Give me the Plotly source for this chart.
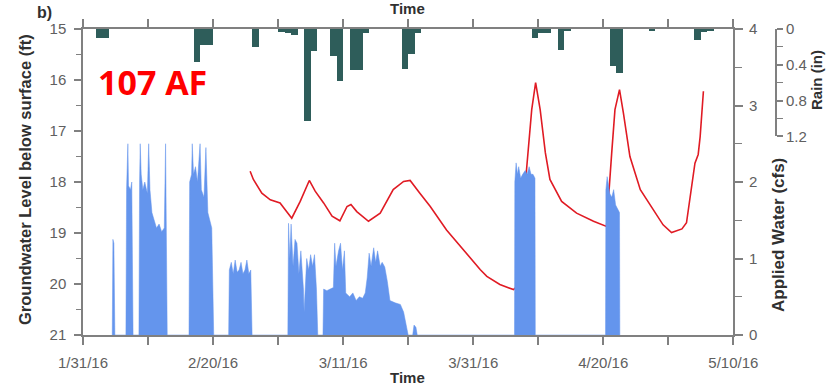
import pandas as pd
import plotly.graph_objects as go

BASE = pd.Timestamp("2016-01-31")

# ---- Rain (in), daily bars; day offset from 1/31/16 ----
rain_day = [2, 3, 17, 18, 19, 26, 30, 31, 32, 34, 35, 38, 39, 41, 42, 43,
            49, 50, 51, 69, 70, 71, 73, 74, 81, 82, 87, 94, 95, 96]
rain_in = [0.10, 0.10, 0.37, 0.18, 0.18, 0.20, 0.03, 0.05, 0.07, 1.03, 0.25, 0.30, 0.58, 0.46, 0.46, 0.04,
           0.45, 0.28, 0.05, 0.10, 0.04, 0.04, 0.24, 0.02, 0.41, 0.49, 0.02, 0.12, 0.03, 0.02]

# ---- Groundwater level below surface (ft) ----
gw_day = [25.7, 26.2, 27.5, 28.8, 30.3, 32.1, 33.4, 34.8, 35.7, 37.0, 38.3, 39.5, 40.6, 41.2,
          42.1, 43.9, 45.7, 47.7, 49.3, 50.3, 51.8, 53.4, 55.9, 58.5, 59.5, 61.1, 62.1, 64.1,
          66.2, 66.7, 67.5, 68.2, 69.0, 69.6, 70.3, 71.1, 71.8, 73.6, 75.9, 78.5, 80.5, 80.6,
          81.3, 81.8, 82.5, 83.1, 84.1, 85.7, 87.5, 89.2, 90.5, 92.1, 92.8, 93.6, 94.1, 94.6,
          94.9, 95.4]
gw_ft = [17.79, 17.95, 18.22, 18.35, 18.41, 18.71, 18.38, 17.97, 18.18, 18.41, 18.67, 18.76, 18.48, 18.44,
         18.58, 18.77, 18.61, 18.15, 17.99, 17.97, 18.22, 18.48, 18.94, 19.33, 19.49, 19.72, 19.85, 20.01,
         20.11, 20.05, 19.07, 17.76, 16.58, 16.05, 16.58, 17.43, 17.95, 18.38, 18.61, 18.77, 18.87, 18.67,
         17.43, 16.58, 16.19, 16.65, 17.50, 18.15, 18.51, 18.84, 18.99, 18.92, 18.80, 18.09, 17.63, 17.46,
         17.11, 16.22]

# ---- Applied water (cfs) ----
aw_day = [4.5, 4.6, 4.75, 4.9,
          6.6, 6.7, 6.9, 7.0, 7.3, 7.5, 7.7,
          8.6, 8.7, 8.8, 8.95, 9.2, 9.5, 9.9, 10.1, 10.3, 10.6, 10.9, 11.3, 11.7, 12.1, 12.5, 12.7, 12.8, 12.95,
          16.3, 16.4, 16.7, 16.8, 17.0, 17.3, 17.6, 18.0, 18.2, 18.6, 18.9, 19.2, 19.5, 19.8, 20.1,
          22.4, 22.5, 22.8, 23.1, 23.4, 23.7, 24.0, 24.3, 24.6, 24.9, 25.2, 25.5, 25.8, 26.0,
          31.5, 31.6, 31.8, 32.0, 32.3, 32.6, 32.9, 33.2, 33.5, 33.9, 34.0, 34.4, 34.7, 35.0, 35.3, 35.6, 35.9, 36.1,
          36.9, 37.0, 37.5, 38.0, 38.5, 38.7, 38.9, 39.3, 39.6, 39.9, 40.2, 40.4, 41.0, 41.5, 42.0, 42.5, 43.0,
          43.4, 43.7, 44.0, 44.3, 44.7, 45.0, 45.3, 45.7, 46.0, 46.4, 46.8, 47.2, 48.0, 48.8, 49.3, 49.7, 50.0,
          50.7, 50.9, 51.2, 51.4,
          66.35, 66.4, 66.6, 66.8, 67.0, 67.3, 67.6, 68.0, 68.3, 68.6, 68.9, 69.2, 69.5, 69.55,
          80.35, 80.4, 80.6, 80.8, 81.0, 81.3, 81.6, 81.9, 82.2, 82.5, 82.55]
aw_cfs = [0, 1.25, 1.2, 0,
          0, 1.9, 2.5, 1.95, 1.9, 2.0, 0,
          0, 2.0, 2.5, 2.1, 1.9, 2.0, 1.85, 2.5, 1.9, 1.6, 1.5, 1.4, 1.45, 1.35, 1.4, 2.5, 1.5, 0,
          0, 2.0, 2.1, 2.5, 2.1, 2.2, 2.0, 2.5, 1.9, 1.8, 2.45, 1.6, 1.5, 1.4, 0,
          0, 0.85, 0.95, 0.8, 0.98, 0.82, 0.85, 0.95, 0.8, 0.85, 0.98, 0.8, 0.85, 0,
          0, 1.46, 1.0, 1.45, 0.9, 1.25, 1.2, 0.8, 1.1, 0.6, 0.3, 1.0, 0.85, 1.05, 0.9, 1.05, 0.6, 0,
          0, 0.6, 0.58, 0.6, 0.62, 1.2, 0.9, 1.1, 1.2, 0.85, 1.1, 0.55, 0.5, 0.55, 0.45, 0.5, 0.48,
          0.55, 0.75, 1.07, 0.9, 1.14, 0.95, 1.1, 0.9, 0.95, 0.89, 0.7, 0.45, 0.42, 0.4, 0.3, 0.1, 0,
          0, 0.13, 0.1, 0,
          0, 2.0, 2.25, 2.1, 2.2, 2.05, 2.1, 2.15, 2.1, 2.2, 2.1, 2.1, 2.05, 0,
          0, 1.9, 2.07, 1.95, 1.85, 1.8, 1.9, 1.7, 1.65, 1.6, 0]

# ---- Tick labels ----
x_tick_days = [0, 10, 20, 30, 40, 50, 60, 70, 80, 90, 100]
x_tick_text = ["1/31/16", "", "2/20/16", "", "3/11/16", "", "3/31/16", "", "4/20/16", "", "5/10/16"]
gw_ticks = [15, 16, 17, 18, 19, 20, 21]
cfs_ticks = [0, 1, 2, 3, 4]
rain_ticks = [0, 0.4, 0.8, 1.2]


def to_date(days):
    return [BASE + pd.Timedelta(days=d) for d in days]


FONT = "Liberation Sans, Arial, sans-serif"
GRAY = "#808080"
TICKFONT = dict(family=FONT, size=15, color="#606060")

fig = go.Figure()

fig.add_trace(go.Scatter(
    x=to_date(aw_day), y=aw_cfs, yaxis="y2", mode="lines",
    line=dict(color="#6495ED", width=0.5), fill="tozeroy", fillcolor="#6495ED",
    showlegend=False, hoverinfo="skip"))

fig.add_trace(go.Scatter(
    x=to_date(gw_day), y=gw_ft, yaxis="y", mode="lines",
    line=dict(color="#e01b24", width=1.6), showlegend=False))

fig.add_trace(go.Bar(
    x=to_date([d + 0.5 for d in rain_day]), y=rain_in, yaxis="y3",
    width=86400000, marker=dict(color="#2e5d5a", line=dict(width=0)),
    showlegend=False))

fig.update_layout(
    width=827, height=386,
    margin=dict(l=83, r=5, t=29, b=51, autoexpand=False),
    paper_bgcolor="white", plot_bgcolor="rgba(0,0,0,0)",
    font=dict(family=FONT, color="#303030"),
    bargap=0,
    xaxis=dict(
        domain=[0, 0.88], type="date", automargin=False,
        range=[BASE, BASE + pd.Timedelta(days=100)],
        tickvals=to_date(x_tick_days), ticktext=x_tick_text,
        ticks="outside", ticklen=8, tickwidth=1.5, tickcolor=GRAY,
        ticklabelstandoff=5,
        showline=True, linecolor=GRAY, linewidth=1.5, mirror="ticks",
        showgrid=False, zeroline=False, tickfont=TICKFONT,
    ),
    yaxis=dict(
        range=[21, 15], tickvals=gw_ticks, automargin=False,
        ticks="outside", ticklen=7, tickwidth=1.5, tickcolor=GRAY,
        ticklabelstandoff=5,
        minor=dict(dtick=0.5, ticks="outside", ticklen=5, tickcolor=GRAY, tickwidth=1.2, showgrid=False),
        showline=True, linecolor=GRAY, linewidth=1.5,
        showgrid=False, zeroline=False, tickfont=TICKFONT,
    ),
    yaxis2=dict(
        overlaying="y", side="right", anchor="x", automargin=False,
        range=[0, 4], tickvals=cfs_ticks,
        ticks="outside", ticklen=8, tickwidth=1.5, tickcolor=GRAY,
        ticklabelstandoff=3,
        minor=dict(dtick=0.5, ticks="outside", ticklen=7, tickcolor=GRAY, tickwidth=1.2, showgrid=False),
        showline=True, linecolor=GRAY, linewidth=1.5,
        showgrid=False, zeroline=False, tickfont=TICKFONT,
    ),
    yaxis3=dict(
        domain=[0.649, 1.0], anchor="free", position=0.938, side="right", automargin=False,
        range=[1.2, 0], tickvals=rain_ticks,
        ticks="outside", ticklen=6, tickwidth=1.5, tickcolor=GRAY,
        minor=dict(dtick=0.2, ticks="outside", ticklen=6, tickcolor=GRAY, tickwidth=1.2, showgrid=False),
        showline=True, linecolor=GRAY, linewidth=1.5,
        showgrid=False, zeroline=False, tickfont=TICKFONT,
    ),
)

ann = [
    dict(text="<b>Groundwater Level below surface (ft)</b>", x=25, y=180, angle=-90, size=16.5),
    dict(text="<b>Applied Water (cfs)</b>", x=778, y=235, angle=-90, size=17),
    dict(text="<b>Rain (in)</b>", x=817, y=80, angle=-90, size=15),
    dict(text="<b>Time</b>", x=407, y=377, angle=0, size=15),
    dict(text="<b>Time</b>", x=407, y=8, angle=0, size=15),
    dict(text="<b>b)</b>", x=44, y=13, angle=0, size=16),
]
for a in ann:
    fig.add_annotation(
        text=a["text"], xref="paper", yref="paper",
        x=(a["x"] - 83) / 739, y=(335 - a["y"]) / 306,
        xanchor="center", yanchor="middle", textangle=a["angle"],
        showarrow=False, font=dict(family=FONT, size=a["size"], color="#303030"))

fig.add_annotation(
    text="<b>107 AF</b>", xref="paper", yref="paper",
    x=(96 - 83) / 739, y=(335 - 82) / 306, xanchor="left", yanchor="middle",
    showarrow=False,
    font=dict(family="Open Sans, sans-serif", size=34, color="#ff0000"))

fig.write_html("out.html")
